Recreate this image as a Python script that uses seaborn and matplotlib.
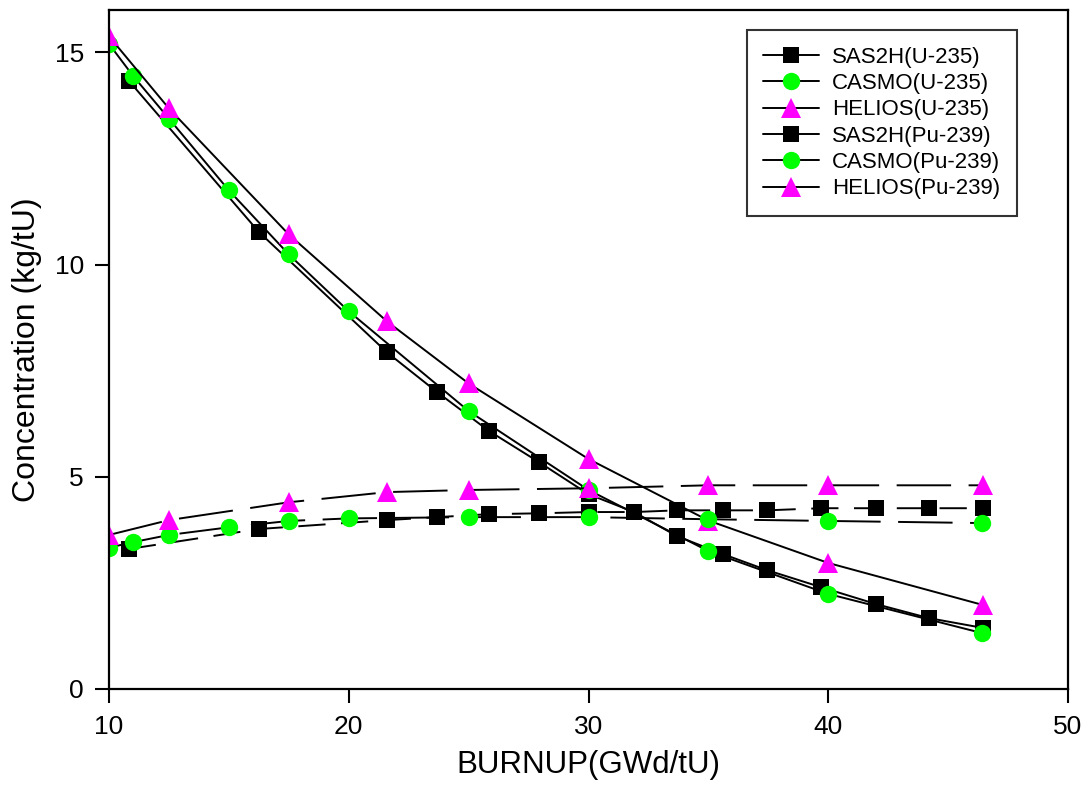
import matplotlib
matplotlib.use("Agg")
import matplotlib.pyplot as plt
from matplotlib.lines import Line2D
import seaborn as sns
import pandas as pd

# ---- data ----
sas2h_x = [10.83, 16.25, 21.6, 23.7, 25.85, 27.95, 30.0, 31.9, 33.7, 35.6, 37.45, 39.7, 42.0, 44.2, 46.45]
sas2h_u235 = [14.33, 10.77, 7.93, 6.99, 6.08, 5.34, 4.59, 4.17, 3.60, 3.18, 2.80, 2.40, 2.00, 1.67, 1.44]
sas2h_pu239 = [3.30, 3.77, 3.98, 4.05, 4.12, 4.14, 4.17, 4.17, 4.21, 4.21, 4.21, 4.26, 4.26, 4.26, 4.26]

casmo_x = [10.0, 11.0, 12.5, 15.0, 17.5, 20.0, 25.0, 30.0, 35.0, 40.0, 46.4]
casmo_u235 = [15.20, 14.45, 13.44, 11.75, 10.24, 8.90, 6.55, 4.69, 3.25, 2.24, 1.32]
casmo_pu239 = [3.33, 3.46, 3.63, 3.81, 3.96, 4.02, 4.05, 4.05, 4.00, 3.96, 3.91]

helios_x = [10.0, 12.5, 17.5, 21.6, 25.0, 30.0, 35.0, 40.0, 46.45]
helios_u235 = [15.38, 13.68, 10.71, 8.66, 7.20, 5.42, 3.97, 2.97, 1.98]
helios_pu239 = [3.63, 3.98, 4.40, 4.64, 4.69, 4.73, 4.80, 4.80, 4.80]

labels = ["SAS2H(U-235)", "CASMO(U-235)", "HELIOS(U-235)",
          "SAS2H(Pu-239)", "CASMO(Pu-239)", "HELIOS(Pu-239)"]
x_ticks = [10, 20, 30, 40, 50]
y_ticks = [0, 5, 10, 15]

sns.set_theme(style="white")
plt.rcParams['font.family'] = ['Liberation Sans', 'DejaVu Sans']
plt.rcParams['text.color'] = 'black'
plt.rcParams['axes.labelcolor'] = 'black'

fig = plt.figure(figsize=(10.88, 7.87), dpi=100)
ax = fig.add_axes([109/1088, 1-689/787, (1068-109)/1088, (689-10)/787])

GREEN = "#00ff00"
MAG = "#ff00ff"
series = [
    (sas2h_x, sas2h_u235, "s", "black", "-", 12),
    (casmo_x, casmo_u235, "o", GREEN, "-", 12.5),
    (helios_x, helios_u235, "^", MAG, "-", 14),
    (sas2h_x, sas2h_pu239, "s", "black", (0, (14, 8)), 12),
    (casmo_x, casmo_pu239, "o", GREEN, (0, (28, 9)), 12.5),
    (helios_x, helios_pu239, "^", MAG, (0, (28, 9)), 14),
]

handles = []
for (xs, ys, mk, mc, ls, ms), lab in zip(series, labels):
    df = pd.DataFrame({"x": xs, "y": ys})
    sns.lineplot(data=df, x="x", y="y", ax=ax, color="black", linewidth=1.4,
                 linestyle=ls, marker=mk, markersize=ms,
                 markerfacecolor=mc, markeredgecolor=mc, markeredgewidth=0)
    handles.append(Line2D([0], [0], color="black", linewidth=1.4, marker=mk,
                          markersize=ms, markerfacecolor=mc, markeredgecolor=mc,
                          markeredgewidth=0))

ax.set_xlim(10, 50)
ax.set_ylim(0, 16)
ax.set_xticks(x_ticks)
ax.set_yticks(y_ticks)
ax.set_xlabel("BURNUP(GWd/tU)", fontsize=22.5, labelpad=8)
ax.set_ylabel("Concentration (kg/tU)", fontsize=23, labelpad=9)
ax.tick_params(axis="both", which="major", direction="out", length=10, width=1.5,
               labelsize=19, bottom=True, left=True, top=False, right=False,
               color="black", labelcolor="black")
ax.tick_params(axis="x", pad=9)
ax.tick_params(axis="y", pad=8)
for sp in ax.spines.values():
    sp.set_visible(True)
    sp.set_color("black")
    sp.set_linewidth(1.6)
ax.grid(False)

leg = ax.legend(handles, labels, loc="upper right",
                bbox_to_anchor=((1017-109)/959, (689-30)/679),
                borderaxespad=0,
                fontsize=16, frameon=True, fancybox=False, handlelength=2.5,
                labelspacing=0.24, borderpad=0.75, handletextpad=0.6)
leg.get_frame().set_edgecolor("black")
leg.get_frame().set_linewidth(1.5)

fig.savefig("out.png", dpi=100)
